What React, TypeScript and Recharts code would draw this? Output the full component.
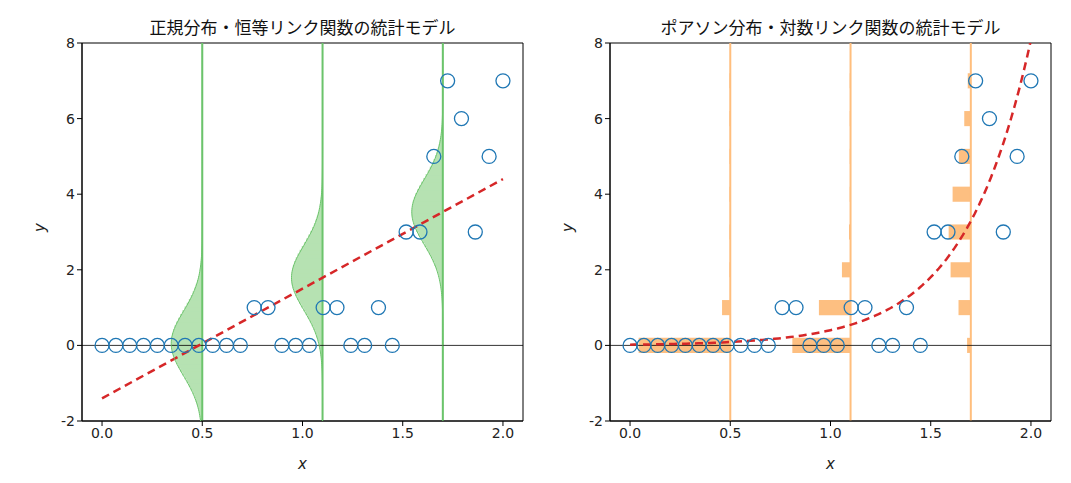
import { ComposedChart, Scatter, Line, XAxis, YAxis, ReferenceLine, ReferenceArea, Label } from 'recharts';

const xs = [0, 0.069, 0.138, 0.207, 0.276, 0.345, 0.414, 0.483, 0.552, 0.621, 0.69, 0.759, 0.828, 0.897, 0.966, 1.034, 1.103, 1.172, 1.241, 1.31, 1.379, 1.448, 1.517, 1.586, 1.655, 1.724, 1.793, 1.862, 1.931, 2.0];
const ys = [0, 0, 0, 0, 0, 0, 0, 0, 0, 0, 0, 1, 1, 0, 0, 0, 1, 1, 0, 0, 1, 0, 3, 3, 5, 7, 6, 3, 5, 7];
const xTicks = [0, 0.5, 1, 1.5, 2];
const yTicks = [-2, 0, 2, 4, 6, 8];
const slices = [0.5, 1.1, 1.7];
const normalParams = { a: -1.4, b: 2.9, sigma: 0.85, scale: 0.33 };
const poissonParams = { a: -3.91, b: 3.0, scale: 0.5 };

const points = xs.map((x, i) => ({ x, y: ys[i] }));
const linLine = [0, 2].map(x => ({ x, y: normalParams.a + normalParams.b * x }));
const expLine = Array.from({ length: 101 }, (_, i) => {
  const x = (i / 100) * 2.0;
  return { x, y: Math.exp(poissonParams.a + poissonParams.b * x) };
});

const normPdf = (y: number, m: number, s: number) => Math.exp(-((y - m) ** 2) / (2 * s * s)) / (s * Math.sqrt(2 * Math.PI));
const poisPmf = (k: number, m: number) => {
  let f = 1;
  for (let i = 2; i <= k; i++) f *= i;
  return Math.exp(-m) * m ** k / f;
};

const axisProps = { stroke: '#000', tick: { fill: '#222', fontSize: 14 }, tickSize: 5 };

function Frame() {
  return <ReferenceArea x1={-0.1} x2={2.1} y1={-2} y2={8} fill="none" stroke="#000" strokeWidth={1} ifOverflow="visible" />;
}

function Panel({ kind }: { kind: 'normal' | 'poisson' }) {
  const width = kind === 'normal' ? 535 : 528;
  const left = kind === 'normal' ? 14 : 7;
  const title = kind === 'normal' ? '正規分布・恒等リンク関数の統計モデル' : 'ポアソン分布・対数リンク関数の統計モデル';
  const areas: any[] = [];
  const outlines: any[] = [];
  slices.forEach((sx, si) => {
    if (kind === 'normal') {
      const m = normalParams.a + normalParams.b * sx;
      const step = 0.1;
      const outline: any[] = [];
      for (let y = -2; y < 8; y += step) {
        const w = normalParams.scale * normPdf(y + step / 2, m, normalParams.sigma);
        areas.push(<ReferenceArea key={`a${si}-${y}`} x1={sx - w} x2={sx} y1={y} y2={Math.min(y + step * 1.3, 8)} fill="#b6e2b2" fillOpacity={1} stroke="none" />);
      }
      for (let y = -2; y <= 8.001; y += 0.05) outline.push({ x: sx - normalParams.scale * normPdf(y, m, normalParams.sigma), y });
      outlines.push(<Scatter key={`o${si}`} data={outline} line={{ stroke: '#6cc46c', strokeWidth: 1 }} shape={() => null} isAnimationActive={false} />);
    } else {
      const m = Math.exp(poissonParams.a + poissonParams.b * sx);
      for (let k = 0; k <= 8; k++) {
        const w = Math.max(poissonParams.scale * poisPmf(k, m), 0.004);
        areas.push(<ReferenceArea key={`p${si}-${k}`} x1={sx - w} x2={sx} y1={k - 0.2} y2={k + 0.2} fill="#fdb46b" fillOpacity={0.85} stroke="none" />);
      }
    }
  });
  const lineColor = kind === 'normal' ? '#6cc46c' : '#ffbe7d';
  return (
    <div style={{ position: 'relative', width, height: 475 }}>
      <div style={{ position: 'absolute', top: 6, left: left + 60, width: 441, textAlign: 'center', fontFamily: '"Noto Sans CJK JP"', fontSize: 17, color: '#111' }}>{title}</div>
      <ComposedChart width={width} height={475} margin={{ top: 35, right: 20, left, bottom: 12 }}>
        <XAxis type="number" dataKey="x" domain={[-0.1, 2.1]} allowDataOverflow ticks={xTicks} tickFormatter={(v: number) => v.toFixed(1)} height={50} {...axisProps}>
          <Label value="x" position="insideBottom" offset={2} style={{ fontStyle: 'italic', fontSize: 15, fill: '#222', fontFamily: 'DejaVu Sans' }} />
        </XAxis>
        <YAxis type="number" dataKey="y" domain={[-2, 8]} allowDataOverflow ticks={yTicks} width={60} {...axisProps}>
          <Label value="y" angle={-90} position="insideLeft" offset={18} style={{ fontStyle: 'italic', fontSize: 15, fill: '#222', fontFamily: 'DejaVu Sans' }} />
        </YAxis>
        {areas}
        {slices.map(sx => <ReferenceLine key={sx} x={sx} stroke={lineColor} strokeWidth={2} />)}
        {outlines}
        <ReferenceLine y={0} stroke="#000" strokeWidth={0.8} />
        <Scatter data={points} fill="none" stroke="#1f77b4" strokeWidth={1.3} shape={(p: any) => <circle cx={p.cx} cy={p.cy} r={7} fill="none" stroke="#1f77b4" strokeWidth={1.3} />} isAnimationActive={false} />
        <Line data={kind === 'normal' ? linLine : expLine} dataKey="y" type="linear" dot={false} stroke="#d62728" strokeWidth={2.5} strokeDasharray="8 5" isAnimationActive={false} />
        {Frame()}
      </ComposedChart>
    </div>
  );
}

export default function App() {
  return (
    <div style={{ display: 'flex', width: 1063, fontFamily: 'DejaVu Sans' }}>
      <Panel kind="normal" />
      <Panel kind="poisson" />
    </div>
  );
}
